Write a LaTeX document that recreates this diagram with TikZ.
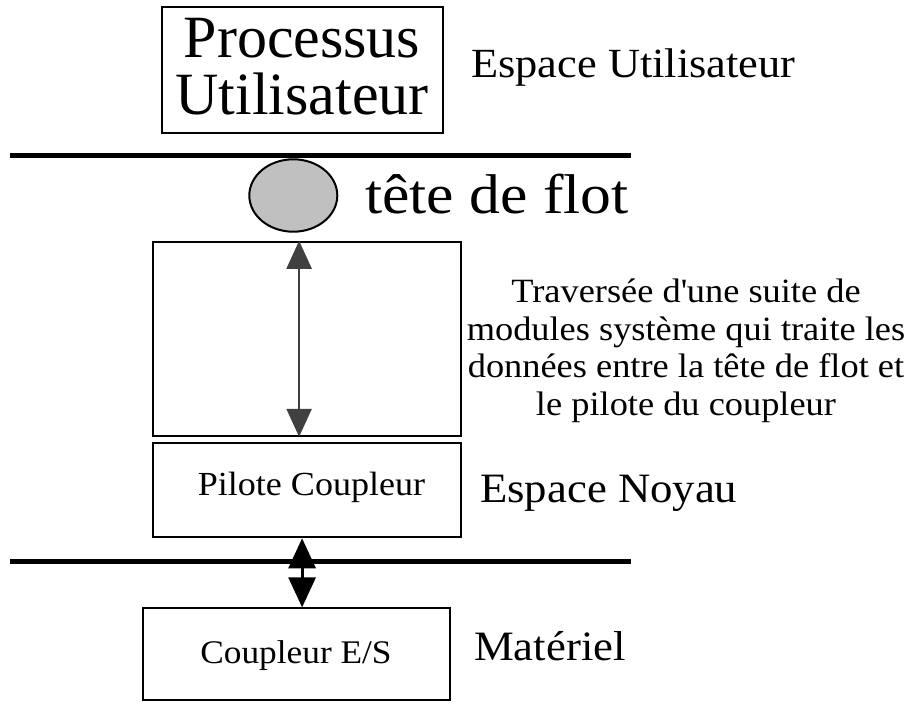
\documentclass[tikz,border=0pt]{standalone}
\usepackage{fontspec}
\setmainfont{Liberation Serif}[FakeStretch=1.07]
\newfontfamily\plainserif{Liberation Serif}
\newfontfamily\wideserif{Liberation Serif}[FakeStretch=1.1]
\usetikzlibrary{arrows.meta,shapes.geometric}
\definecolor{headgray}{HTML}{C0C0C0}
\definecolor{arrowgray}{HTML}{404040}
\begin{document}
\begin{tikzpicture}[x=1pt,y=-1pt,
  box/.style={draw,line width=2pt,inner sep=0pt,rectangle},
  sepline/.style={line width=5pt},
  label/.style={inner sep=0pt,anchor=base west},
  dual/.style={line width=2.5pt,arrowgray,
    {Triangle[length=28pt,width=25pt]}-{Triangle[length=28pt,width=25pt]}},
  duallow/.style={line width=3pt,black,
    {Triangle[length=30pt,width=27pt]}-{Triangle[length=30pt,width=27pt]}}]
\useasboundingbox (0,0) rectangle (909,702);

% user space
\node[box,minimum width=281.6pt,minimum height=126.6pt] (proc) at (302.5,70) {};
\node[inner sep=0pt,align=center,anchor=north,
      font=\plainserif\fontsize{60}{57}\selectfont] (proctxt) at (302,18) {Processus\\Utilisateur};
\node[label,font=\fontsize{41.5}{44}\selectfont] (user) at (471,77.5) {Espace Utilisateur};

% boundary user / kernel
\coordinate (topL) at (10,155.5);
\coordinate (topR) at (631,155.5);
\draw[sepline] (topL) -- (topR);

% stream head
\node[draw,line width=2pt,ellipse,fill=headgray,minimum width=88pt,minimum height=72.4pt,inner sep=0pt]
  (head) at (293.3,195.5) {};
\node[label,font=\wideserif\fontsize{56}{60}\selectfont] (headtxt) at (365,213) {tête de flot};

% chain of modules
\node[box,minimum width=307.7pt,minimum height=194pt] (mods) at (307.1,338.8) {};
\draw[dual] ([xshift=-8pt]mods.north) -- ([xshift=-8pt]mods.south);
\node[inner sep=0pt,align=center,anchor=north,
      font=\fontsize{34}{37.4}\selectfont] (modstxt) at (686,279) {Traversée d\textquotesingle une suite de\\modules système qui traite les\\données entre la tête de flot et\\le pilote du coupleur};

% driver
\node[box,minimum width=307.7pt,minimum height=94pt] (drv) at (307.1,490.3) {};
\node[inner sep=0pt,anchor=base,font=\fontsize{33.7}{36}\selectfont] (drvtxt) at (311.5,495.7) {Pilote Coupleur};
\node[label,font=\fontsize{41.8}{44}\selectfont] (kern) at (480,502.7) {Espace Noyau};

% boundary kernel / hardware
\coordinate (botL) at (10,561.7);
\coordinate (botR) at (631,561.7);
\draw[sepline] (botL) -- (botR);

% hardware
\node[box,minimum width=306.7pt,minimum height=91.7pt] (io) at (296.7,654.2) {};
\node[inner sep=0pt,anchor=base,font=\fontsize{33}{36}\selectfont] (iotxt) at (296,663.3) {Coupleur E/S};
\node[label,font=\fontsize{41.8}{44}\selectfont] (hw) at (474,660) {Matériel};

\draw[duallow] ([xshift=-5pt]drv.south) -- ([xshift=-5pt]drv.south |- io.north);
\end{tikzpicture}
\end{document}
